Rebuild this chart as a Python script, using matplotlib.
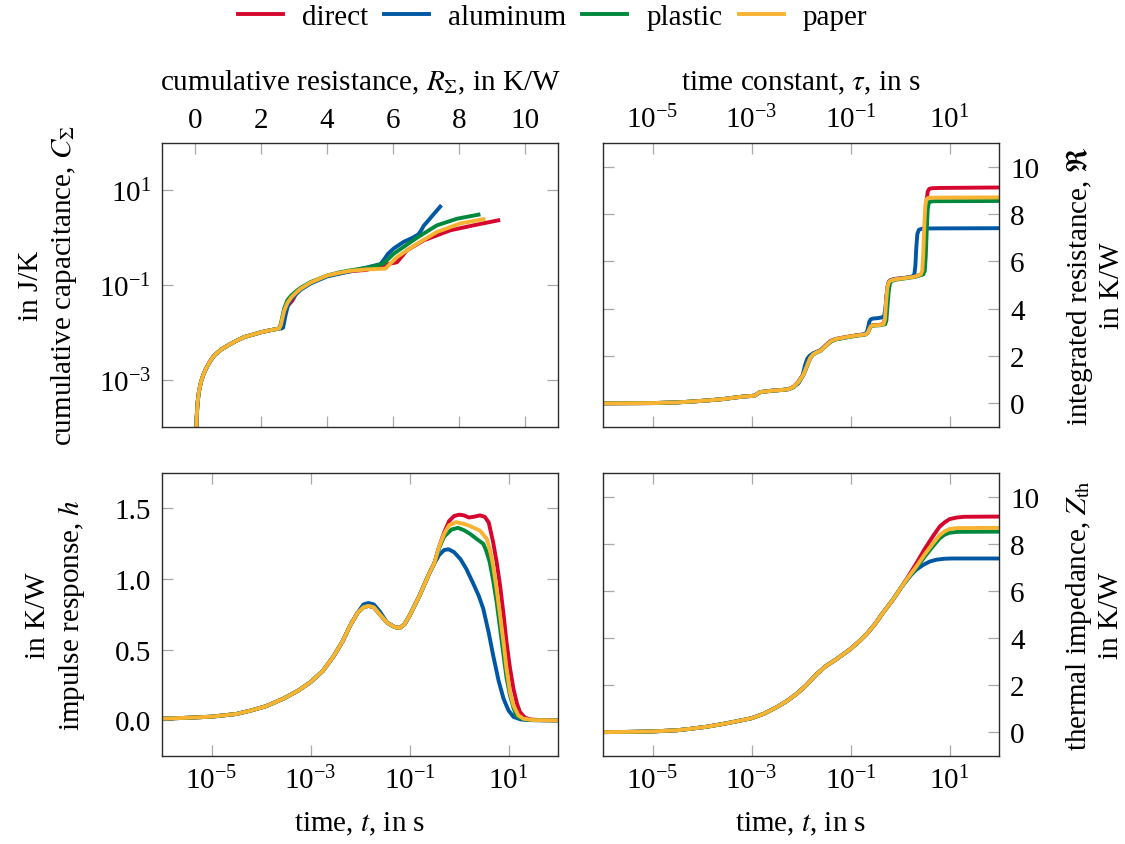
import numpy as np
import matplotlib
matplotlib.use("Agg")
import matplotlib.pyplot as plt
from matplotlib.ticker import NullLocator, FixedLocator

plt.rcParams['font.family'] = ['Liberation Serif', 'DejaVu Serif']
plt.rcParams['mathtext.fontset'] = 'stix'
plt.rcParams['font.size'] = 21

names = ["direct", "aluminum", "plastic", "paper"]
colors = {"direct": "#D6072E", "aluminum": "#0057A4", "plastic": "#00893D", "paper": "#F7B331"}

# ---------------- impulse response h(t): log10(t) and h in K/W ----------------
h_common_logt = [-6.0, -5.5, -5.0, -4.5, -4.2, -3.9, -3.55, -3.25, -3.0, -2.75, -2.54, -2.35,
                 -2.2, -2.05, -1.93, -1.83, -1.72, -1.6, -1.45, -1.3, -1.2, -1.1, -1.0, -0.9,
                 -0.8, -0.7, -0.6, -0.5]
h_common = [0.012, 0.018, 0.026, 0.045, 0.07, 0.10, 0.153, 0.21, 0.27, 0.35, 0.45, 0.56,
            0.67, 0.76, 0.80, 0.81, 0.80, 0.75, 0.69, 0.66, 0.653, 0.68, 0.74, 0.81,
            0.88, 0.96, 1.04, 1.11]
h_alu_bump = 0.02  # aluminum sits slightly higher on the first peak
h_tail_logt = {
    "direct":   [-0.4, -0.3, -0.2, -0.1, 0.0, 0.1, 0.2, 0.3, 0.42, 0.52, 0.6, 0.69, 0.76, 0.83,
                 0.9, 0.96, 1.03, 1.1, 1.17, 1.23, 1.33, 1.45, 1.7, 2.0],
    "aluminum": [-0.4, -0.3, -0.21, -0.1, 0.03, 0.15, 0.29, 0.4, 0.49, 0.6, 0.69, 0.8, 0.9,
                 1.0, 1.1, 1.25, 1.5, 2.0],
    "plastic":  [-0.4, -0.3, -0.15, -0.02, 0.1, 0.22, 0.35, 0.49, 0.55, 0.62, 0.69, 0.76, 0.83,
                 0.9, 0.96, 1.03, 1.1, 1.16, 1.3, 1.5, 2.0],
    "paper":    [-0.4, -0.3, -0.2, -0.06, 0.1, 0.22, 0.42, 0.5, 0.56, 0.63, 0.69, 0.76, 0.83,
                 0.9, 0.96, 1.03, 1.1, 1.2, 1.3, 1.5, 2.0],
}
h_tail = {
    "direct":   [1.23, 1.33, 1.41, 1.445, 1.455, 1.45, 1.435, 1.44, 1.45, 1.44, 1.40, 1.26, 1.12,
                 0.954, 0.75, 0.554, 0.37, 0.224, 0.12, 0.06, 0.02, 0.006, 0.001, 0.0],
    "aluminum": [1.17, 1.205, 1.21, 1.19, 1.14, 1.07, 0.966, 0.88, 0.79, 0.62, 0.46, 0.28, 0.153,
                 0.07, 0.025, 0.006, 0.001, 0.0],
    "plastic":  [1.22, 1.30, 1.35, 1.362, 1.345, 1.32, 1.285, 1.249, 1.2, 1.12, 0.99, 0.837, 0.65,
                 0.46, 0.3, 0.177, 0.09, 0.03, 0.008, 0.002, 0.0],
    "paper":    [1.23, 1.32, 1.38, 1.402, 1.39, 1.375, 1.343, 1.31, 1.284, 1.2, 1.095, 0.93, 0.742,
                 0.55, 0.365, 0.2, 0.106, 0.035, 0.012, 0.002, 0.0],
}

# ---------------- thermal impedance Z_th(t) ----------------
z_common_logt = [-6.0, -5.5, -5.0, -4.5, -4.24, -3.9, -3.57, -3.3, -3.0, -2.75, -2.49, -2.3,
                 -2.09, -1.9, -1.68, -1.5, -1.28, -1.0, -0.8, -0.67, -0.5, -0.34, -0.15, 0.0]
z_common = [0.0, 0.01, 0.03, 0.08, 0.14, 0.23, 0.35, 0.46, 0.59, 0.78, 1.06, 1.3,
            1.62, 1.98, 2.47, 2.8, 3.1, 3.53, 3.9, 4.17, 4.6, 5.08, 5.6, 6.07]
z_tail_logt = {
    "direct":   [0.17, 0.34, 0.5, 0.67, 0.8, 0.9, 1.0, 1.15, 1.3, 2.0],
    "aluminum": [0.1, 0.21, 0.32, 0.47, 0.6, 0.74, 0.9, 1.05, 2.0],
    "plastic":  [0.17, 0.34, 0.5, 0.67, 0.8, 0.9, 1.0, 1.15, 2.0],
    "paper":    [0.17, 0.34, 0.5, 0.67, 0.8, 0.9, 1.0, 1.15, 2.0],
}
z_tail = {
    "direct":   [6.62, 7.2, 7.78, 8.33, 8.72, 8.9, 9.04, 9.11, 9.14, 9.15],
    "aluminum": [6.35, 6.64, 6.88, 7.1, 7.24, 7.32, 7.36, 7.37, 7.37],
    "plastic":  [6.55, 6.99, 7.45, 7.9, 8.22, 8.38, 8.46, 8.5, 8.51],
    "paper":    [6.58, 7.06, 7.55, 8.02, 8.36, 8.52, 8.62, 8.66, 8.67],
}

# ---------------- integrated resistance vs. time constant ----------------
r_common_logtau = [-6.0, -5.5, -5.0, -4.5, -4.24, -3.9, -3.57, -3.35, -3.15, -3.0, -2.93,
                   -2.89, -2.85, -2.8, -2.6, -2.36, -2.25]
r_common = [0.0, 0.005, 0.01, 0.04, 0.07, 0.12, 0.18, 0.24, 0.29, 0.31, 0.33,
            0.39, 0.45, 0.48, 0.53, 0.57, 0.6]
r_tail_logtau = {
    "direct":   [-2.15, -2.05, -1.95, -1.88, -1.82, -1.76, -1.68, -1.6, -1.5, -1.4, -1.3, -1.1,
                 -0.9, -0.7, -0.65, -0.62, -0.59, -0.55, -0.4, -0.33, -0.305, -0.28, -0.255,
                 -0.23, -0.2, -0.1, 0.1, 0.3, 0.44, 0.48, 0.5, 0.52, 0.54, 0.56, 0.59, 0.65,
                 0.8, 2.0],
    "aluminum": [-2.15, -2.05, -1.97, -1.92, -1.87, -1.82, -1.75, -1.6, -1.5, -1.4, -1.3,
                 -1.1, -0.9, -0.72, -0.67, -0.645, -0.62, -0.59, -0.55, -0.45, -0.36, -0.32,
                 -0.295, -0.27, -0.245, -0.22, -0.19, -0.1, 0.1, 0.25, 0.29, 0.31, 0.33, 0.35,
                 0.38, 0.44, 0.6, 2.0],
    "plastic":  [-2.15, -2.05, -1.95, -1.88, -1.82, -1.76, -1.68, -1.6, -1.5, -1.4, -1.3, -1.1,
                 -0.9, -0.7, -0.65, -0.62, -0.59, -0.55, -0.4, -0.3, -0.275, -0.25, -0.225,
                 -0.2, -0.17, -0.1, 0.1, 0.3, 0.47, 0.5, 0.52, 0.54, 0.56, 0.58, 0.62, 0.7,
                 2.0],
    "paper":    [-2.15, -2.05, -1.95, -1.88, -1.82, -1.76, -1.68, -1.6, -1.5, -1.4, -1.3, -1.1,
                 -0.9, -0.7, -0.65, -0.62, -0.59, -0.55, -0.4, -0.33, -0.305, -0.28, -0.255,
                 -0.23, -0.2, -0.1, 0.1, 0.3, 0.42, 0.45, 0.47, 0.49, 0.51, 0.53, 0.57, 0.65,
                 2.0],
}
r_tail = {
    "direct":   [0.7, 0.92, 1.25, 1.6, 1.92, 2.08, 2.17, 2.25, 2.45, 2.64, 2.72, 2.8,
                 2.87, 2.92, 3.0, 3.15, 3.27, 3.3, 3.32, 3.36, 3.55, 4.3, 4.9, 5.12,
                 5.2, 5.26, 5.3, 5.36, 5.45, 5.6, 6.3, 7.6, 8.6, 8.95, 9.06, 9.09,
                 9.1, 9.12],
    "aluminum": [0.7, 0.85, 1.15, 1.6, 1.9, 2.02, 2.12, 2.25, 2.45, 2.62, 2.7,
                 2.78, 2.86, 2.92, 3.0, 3.2, 3.45, 3.55, 3.58, 3.6, 3.63, 3.7,
                 4.0, 4.6, 5.0, 5.15, 5.2, 5.25, 5.3, 5.36, 5.45, 5.8, 6.6, 7.15,
                 7.33, 7.38, 7.39, 7.4],
    "plastic":  [0.68, 0.9, 1.2, 1.55, 1.88, 2.05, 2.15, 2.22, 2.42, 2.6, 2.7, 2.78,
                 2.85, 2.9, 2.98, 3.12, 3.24, 3.28, 3.3, 3.34, 3.5, 4.2, 4.8, 5.08,
                 5.17, 5.22, 5.28, 5.34, 5.45, 5.6, 6.2, 7.3, 8.2, 8.45, 8.53, 8.54,
                 8.55],
    "paper":    [0.7, 0.9, 1.22, 1.58, 1.9, 2.06, 2.16, 2.23, 2.43, 2.62, 2.71, 2.79,
                 2.86, 2.91, 2.99, 3.14, 3.26, 3.29, 3.31, 3.35, 3.55, 4.3, 4.9, 5.1,
                 5.18, 5.24, 5.29, 5.35, 5.45, 5.6, 6.3, 7.5, 8.3, 8.6, 8.68, 8.69,
                 8.7],
}

# ---------------- cumulative structure: R_sum vs. log10(C_sum) ----------------
c_common_r = [0.02, 0.05, 0.08, 0.12, 0.18, 0.25, 0.33, 0.45, 0.58, 0.8, 0.99, 1.25, 1.49,
              1.75, 1.99, 2.25, 2.55]
c_common_logc = [-5.0, -3.8, -3.47, -3.25, -3.05, -2.9, -2.77, -2.62, -2.49, -2.36, -2.28,
                 -2.18, -2.10, -2.05, -2.0, -1.96, -1.92]
c_tail_r = {
    "direct":   [2.6, 2.7, 2.8, 2.95, 3.05, 3.2, 3.5, 4.0, 4.4, 4.71, 5.2, 5.77, 6.12, 6.42,
                 6.93, 7.73, 8.54, 9.19],
    "aluminum": [2.62, 2.67, 2.74, 2.82, 2.92, 3.05, 3.2, 3.5, 4.0, 4.71, 5.2, 5.62, 5.71,
                 5.85, 6.02, 6.32, 6.6, 6.77, 6.85, 6.93, 7.03, 7.2, 7.43],
    "plastic":  [2.6, 2.7, 2.8, 2.92, 3.05, 3.2, 3.5, 4.0, 4.4, 4.71, 5.2, 5.71, 6.02, 6.73,
                 7.33, 7.94, 8.59],
    "paper":    [2.6, 2.7, 2.8, 2.92, 3.05, 3.2, 3.5, 4.0, 4.4, 4.71, 5.2, 5.77, 6.12, 6.73,
                 7.33, 8.04, 8.74],
}
c_tail_logc = {
    "direct":   [-1.85, -1.6, -1.45, -1.33, -1.2, -1.09, -0.95, -0.81, -0.75, -0.71, -0.68,
                 -0.57, -0.52, -0.27, -0.057, 0.154, 0.275, 0.366],
    "aluminum": [-1.92, -1.9, -1.65, -1.42, -1.3, -1.2, -1.1, -0.97, -0.82, -0.71, -0.63,
                 -0.56, -0.48, -0.34, -0.23, -0.09, 0.0, 0.07, 0.15, 0.25, 0.33, 0.47, 0.655],
    "plastic":  [-1.82, -1.5, -1.32, -1.22, -1.14, -1.06, -0.94, -0.8, -0.73, -0.69, -0.64,
                 -0.55, -0.34, 0.0, 0.26, 0.40, 0.486],
    "paper":    [-1.85, -1.55, -1.38, -1.26, -1.17, -1.08, -0.95, -0.8, -0.74, -0.7, -0.67,
                 -0.655, -0.41, -0.13, 0.12, 0.30, 0.39],
}

fig = plt.figure(figsize=(11.25, 8.45), dpi=100)
ax_c = fig.add_axes([0.144, 0.4935, 0.352, 0.3361])
ax_r = fig.add_axes([0.536, 0.4935, 0.352, 0.3361])
ax_h = fig.add_axes([0.144, 0.1045, 0.352, 0.3346])
ax_z = fig.add_axes([0.536, 0.1045, 0.352, 0.3346])

lw = 2.8
handles = []
for n in names:
    col = colors[n]
    # cumulative structure
    r = np.array(c_common_r + c_tail_r[n])
    c = 10.0 ** np.array(c_common_logc + c_tail_logc[n])
    ax_c.plot(r, c, color=col, lw=lw)
    # integrated resistance
    tau = 10.0 ** np.array(r_common_logtau + r_tail_logtau[n])
    ax_r.plot(tau, np.array(r_common + r_tail[n]), color=col, lw=lw)
    # impulse response
    hv = np.array(h_common + h_tail[n])
    if n == "aluminum":
        hv[14:18] += h_alu_bump
    t = 10.0 ** np.array(h_common_logt + h_tail_logt[n])
    ax_h.plot(t, hv, color=col, lw=lw)
    # thermal impedance
    tz = 10.0 ** np.array(z_common_logt + z_tail_logt[n])
    line, = ax_z.plot(tz, np.array(z_common + z_tail[n]), color=col, lw=lw, label=n)
    handles.append(line)

tick_kw = dict(direction="in", length=8, width=0.9, color="#a8a8a8", labelcolor="black",
               top=True, bottom=True, left=True, right=True)

# top-left: cumulative structure
ax_c.set_xlim(-1, 11)
ax_c.set_yscale("log")
ax_c.set_ylim(1e-4, 1e2)
ax_c.set_xticks([0, 2, 4, 6, 8, 10])
ax_c.yaxis.set_major_locator(FixedLocator([1e-3, 1e-1, 1e1]))
ax_c.yaxis.set_minor_locator(NullLocator())
ax_c.tick_params(axis="both", **tick_kw)
ax_c.tick_params(axis="x", labeltop=True, labelbottom=False, pad=7)
ax_c.tick_params(axis="y", pad=8)
ax_c.xaxis.set_label_position("top")
ax_c.set_xlabel(r"cumulative resistance, $R_\Sigma$, in K/W")
ax_c.xaxis.set_label_coords(0.5, 1.19)
ax_c.set_ylabel("in J/K\n" + r"cumulative capacitance, $C_\Sigma$", multialignment="center")
ax_c.yaxis.set_label_coords(-0.21, 0.5)

# top-right: integrated resistance
ax_r.set_xscale("log")
ax_r.set_xlim(1e-6, 1e2)
ax_r.set_ylim(-1, 11)
ax_r.xaxis.set_major_locator(FixedLocator([1e-5, 1e-3, 1e-1, 1e1]))
ax_r.xaxis.set_minor_locator(NullLocator())
ax_r.set_yticks([0, 2, 4, 6, 8, 10])
ax_r.tick_params(axis="both", **tick_kw)
ax_r.tick_params(axis="x", labeltop=True, labelbottom=False, pad=7)
ax_r.tick_params(axis="y", labelleft=False, labelright=True, pad=8)
ax_r.xaxis.set_label_position("top")
ax_r.set_xlabel(r"time constant, $\tau$, in s")
ax_r.xaxis.set_label_coords(0.5, 1.19)
ax_r.yaxis.set_label_position("right")
ax_r.set_ylabel(r"integrated resistance, $\Re$" + "\nin K/W", multialignment="center")
ax_r.yaxis.set_label_coords(1.165, 0.5)

# bottom-left: impulse response
ax_h.set_xscale("log")
ax_h.set_xlim(1e-6, 1e2)
ax_h.set_ylim(-0.25, 1.75)
ax_h.xaxis.set_major_locator(FixedLocator([1e-5, 1e-3, 1e-1, 1e1]))
ax_h.xaxis.set_minor_locator(NullLocator())
ax_h.set_yticks([0.0, 0.5, 1.0, 1.5])
ax_h.set_yticklabels(["0.0", "0.5", "1.0", "1.5"])
ax_h.tick_params(axis="both", **tick_kw)
ax_h.tick_params(axis="x", pad=7)
ax_h.tick_params(axis="y", pad=8)
ax_h.set_xlabel(r"time, $t$, in s")
ax_h.xaxis.set_label_coords(0.5, -0.19)
ax_h.set_ylabel("in K/W\n" + r"impulse response, $h$", multialignment="center")
ax_h.yaxis.set_label_coords(-0.19, 0.5)

# bottom-right: thermal impedance
ax_z.set_xscale("log")
ax_z.set_xlim(1e-6, 1e2)
ax_z.set_ylim(-1, 11)
ax_z.xaxis.set_major_locator(FixedLocator([1e-5, 1e-3, 1e-1, 1e1]))
ax_z.xaxis.set_minor_locator(NullLocator())
ax_z.set_yticks([0, 2, 4, 6, 8, 10])
ax_z.tick_params(axis="both", **tick_kw)
ax_z.tick_params(axis="x", pad=7)
ax_z.tick_params(axis="y", labelleft=False, labelright=True, pad=8)
ax_z.set_xlabel(r"time, $t$, in s")
ax_z.xaxis.set_label_coords(0.5, -0.19)
ax_z.yaxis.set_label_position("right")
ax_z.set_ylabel(r"thermal impedance, $Z_\mathrm{th}$" + "\nin K/W", multialignment="center")
ax_z.yaxis.set_label_coords(1.165, 0.5)

for ax in (ax_c, ax_r, ax_h, ax_z):
    for sp in ax.spines.values():
        sp.set_color("#2b2b2b")
        sp.set_linewidth(1.0)

fig.legend(handles=handles, labels=names, loc="center", bbox_to_anchor=(0.491, 0.979),
           ncol=4, frameon=False, handlelength=1.55, handletextpad=0.65, columnspacing=0.55,
           fontsize=21)

fig.savefig("out.png", dpi=100)
